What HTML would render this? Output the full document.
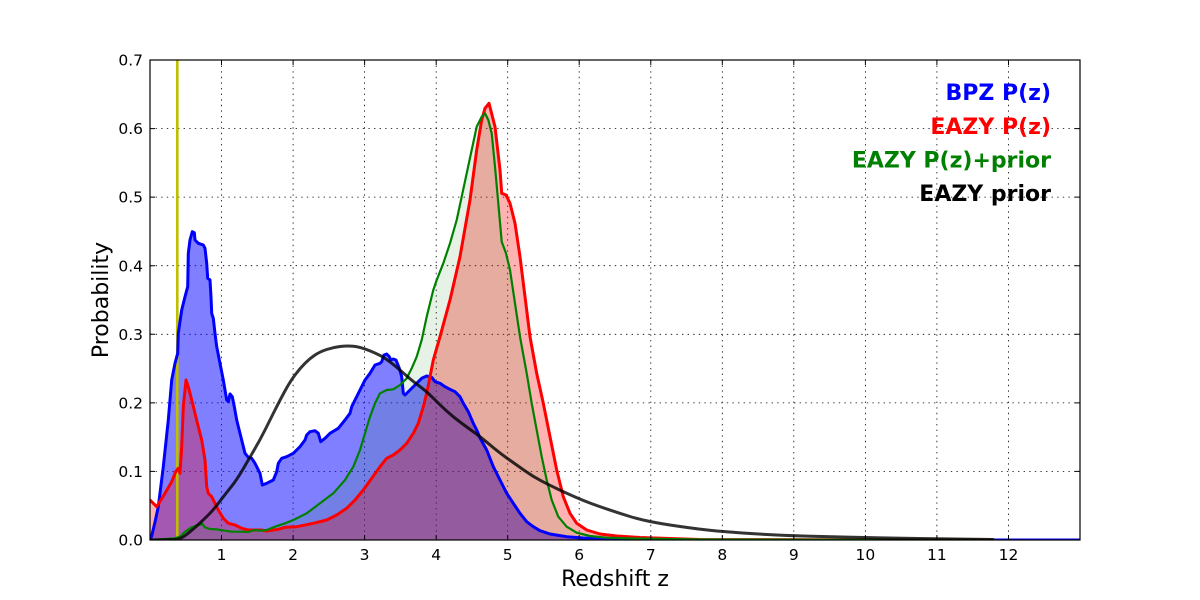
<!DOCTYPE html>
<html><head><meta charset="utf-8"><style>
html,body{margin:0;padding:0;background:#fff;}
svg{display:block;}
text{font-family:"DejaVu Sans","Liberation Sans",sans-serif;}
</style></head><body>
<svg width="1200" height="600" viewBox="0 0 1200 600" xmlns="http://www.w3.org/2000/svg">
<defs><clipPath id="c"><rect x="150" y="60" width="930" height="480"/></clipPath></defs>
<rect width="1200" height="600" fill="#fff"/>
<g stroke="#000" stroke-width="0.8" stroke-dasharray="1.4 4.2" fill="none">
<line x1="221.5" y1="60" x2="221.5" y2="540"/><line x1="293.1" y1="60" x2="293.1" y2="540"/><line x1="364.6" y1="60" x2="364.6" y2="540"/><line x1="436.2" y1="60" x2="436.2" y2="540"/><line x1="507.7" y1="60" x2="507.7" y2="540"/><line x1="579.2" y1="60" x2="579.2" y2="540"/><line x1="650.8" y1="60" x2="650.8" y2="540"/><line x1="722.3" y1="60" x2="722.3" y2="540"/><line x1="793.8" y1="60" x2="793.8" y2="540"/><line x1="865.4" y1="60" x2="865.4" y2="540"/><line x1="936.9" y1="60" x2="936.9" y2="540"/><line x1="1008.5" y1="60" x2="1008.5" y2="540"/>
<line x1="150" y1="471.4" x2="1080" y2="471.4"/><line x1="150" y1="402.9" x2="1080" y2="402.9"/><line x1="150" y1="334.3" x2="1080" y2="334.3"/><line x1="150" y1="265.7" x2="1080" y2="265.7"/><line x1="150" y1="197.1" x2="1080" y2="197.1"/><line x1="150" y1="128.6" x2="1080" y2="128.6"/>
</g>
<g clip-path="url(#c)">
<path fill="#0000ff" fill-opacity="0.5" d="M150,540 L151.7,536 155,522 158.3,506.7 163.3,466.7 168.3,420 171.7,380 175,363.3 177.7,353.3 178.3,333.3 181.7,310 185,296.7 187.7,286.7 188.3,253.3 190,240 192.3,231.7 194.3,232.7 195,240 198.3,243.3 203.3,245 205,248.3 206.7,263.3 207.7,278.3 210,280 211,296.7 211.7,313.3 213.3,318.3 215,333.3 216.7,346.7 220,363.3 223.3,380 226.7,400 228.3,401.7 230,394 232.3,396.7 234.3,406.7 236.7,420 240,433.3 245,453.3 248.3,457.3 251.7,458.3 255,463.3 260,473.3 262.3,485 266.7,483.3 273.3,480 276.7,471.7 278.3,463.3 281.7,458.3 286.7,456.7 293.3,453.3 300,446.7 305,440 306.7,435 310,431.7 315,430.7 318.3,433.3 320.7,441.7 325,438.3 330,433.3 338.3,428.3 345,420 350,413.3 351.7,406.7 355,400 360,390 365,380 370,373.3 375,365 380,363.3 381.7,361.7 384,355 386.7,354 389.3,356.7 390.7,360 393.3,359 396,360 397.3,363.3 399.3,368.3 401.7,376.7 403.3,393.3 405,395 410,390 416.7,383.3 421.7,378.3 426.7,376 431.7,377.3 435,381.7 440,383.3 445,386.7 450,389.3 455,391.7 460,396.7 463.3,403.3 468.3,411.7 473.3,423.3 476.7,430 480,438 486.7,450 493.3,466.7 500,480 506.7,493.3 513.3,503.3 520,513.3 526.7,521.7 533.3,526.7 540,530.7 550,534 566.7,536.7 583,538 610,539.5 650,540 1080,540 Z"/>
<path fill="#ff0000" fill-opacity="0.3" d="M150,540 L150,500 156.7,506.7 165,493.3 171.7,481.7 175.7,471.7 178.3,468.3 180,473.3 181.7,446.7 183.3,406.7 186,380 188.3,386.7 191.7,400 195,413.3 198.3,426.7 201.7,440 205,460 206.7,486.7 208.3,493.3 211.7,496.7 215,503.3 218.3,510 223.3,518.3 228.3,523.3 235,525 241.7,528.3 248.3,530 255,530 261.7,530 266.7,531 278.3,529.3 285,527.3 296.7,526.7 313.3,523.3 326.7,520 336.7,515 346.7,508.3 355,500 363.3,490 371.7,478.3 380,466.7 386.7,458.3 393.3,455 400,450 406.7,443.3 413.3,433.3 418.3,423.3 423.3,406.7 426.7,393.3 430,376.7 433.3,360 440,336.7 450,300 460,256.7 470,200 476.7,150 481.7,120 485,108.3 489,103.3 495,126.7 500,170 501.7,193.3 506,195 510,203.3 515,223.3 520,256.7 525,296.7 530,336.7 536.7,373.3 543.3,403.3 550,436.7 556.7,470 563.3,496.7 570,513.3 576.7,523.3 586.7,530 600,534 616.7,536 640,537.5 700,539.5 993,540 Z"/>
<path fill="#008000" fill-opacity="0.1" d="M150,540 L175,538.3 180,536.7 185,531.7 191.7,527.3 198.3,525 202.3,524 205,527.3 210,529 216.7,529.3 225,530.7 231.7,531.7 241.7,531.7 248.3,532 255,530 260,530.7 266.7,530 275,526.7 285,523.3 293.3,520 306.7,513.3 320,503.3 333.3,493.3 345,480 353.3,466.7 360,450 365,433.3 370,416.7 375,403.3 380,393.3 386.7,390 393.3,389.3 400,385 406.7,378.3 411.7,368.3 416.7,356.7 421.7,340 426.7,316.7 433.3,290 436.7,280 443.3,263.3 450,243.3 456.7,220 461.7,196.7 466.7,173.3 471.7,150 476.7,126.7 481.7,116.7 485,113.3 488.3,120 491.7,133.3 495,166.7 498.3,203.3 501.7,241.7 506,253.3 510,270 515,303.3 520,336.7 526.7,373.3 531.7,403.3 536.7,430 541.7,456.7 546.7,480 551.7,500 558.3,516.7 566.7,526.7 576.7,532.7 590,536 606.7,537.7 633,538.5 700,539.5 993,540 Z"/>
<line x1="177.3" y1="60" x2="177.3" y2="540" stroke="#bfbf00" stroke-width="2.6"/>
<g fill="none" stroke-linejoin="round" stroke-linecap="round">
<polyline stroke="#0000ff" stroke-width="3" points="150,540 151.7,536 155,522 158.3,506.7 163.3,466.7 168.3,420 171.7,380 175,363.3 177.7,353.3 178.3,333.3 181.7,310 185,296.7 187.7,286.7 188.3,253.3 190,240 192.3,231.7 194.3,232.7 195,240 198.3,243.3 203.3,245 205,248.3 206.7,263.3 207.7,278.3 210,280 211,296.7 211.7,313.3 213.3,318.3 215,333.3 216.7,346.7 220,363.3 223.3,380 226.7,400 228.3,401.7 230,394 232.3,396.7 234.3,406.7 236.7,420 240,433.3 245,453.3 248.3,457.3 251.7,458.3 255,463.3 260,473.3 262.3,485 266.7,483.3 273.3,480 276.7,471.7 278.3,463.3 281.7,458.3 286.7,456.7 293.3,453.3 300,446.7 305,440 306.7,435 310,431.7 315,430.7 318.3,433.3 320.7,441.7 325,438.3 330,433.3 338.3,428.3 345,420 350,413.3 351.7,406.7 355,400 360,390 365,380 370,373.3 375,365 380,363.3 381.7,361.7 384,355 386.7,354 389.3,356.7 390.7,360 393.3,359 396,360 397.3,363.3 399.3,368.3 401.7,376.7 403.3,393.3 405,395 410,390 416.7,383.3 421.7,378.3 426.7,376 431.7,377.3 435,381.7 440,383.3 445,386.7 450,389.3 455,391.7 460,396.7 463.3,403.3 468.3,411.7 473.3,423.3 476.7,430 480,438 486.7,450 493.3,466.7 500,480 506.7,493.3 513.3,503.3 520,513.3 526.7,521.7 533.3,526.7 540,530.7 550,534 566.7,536.7 583,538 610,539.5 650,540 1080,540"/>
<polyline stroke="#ff0000" stroke-width="3" points="150,500 156.7,506.7 165,493.3 171.7,481.7 175.7,471.7 178.3,468.3 180,473.3 181.7,446.7 183.3,406.7 186,380 188.3,386.7 191.7,400 195,413.3 198.3,426.7 201.7,440 205,460 206.7,486.7 208.3,493.3 211.7,496.7 215,503.3 218.3,510 223.3,518.3 228.3,523.3 235,525 241.7,528.3 248.3,530 255,530 261.7,530 266.7,531 278.3,529.3 285,527.3 296.7,526.7 313.3,523.3 326.7,520 336.7,515 346.7,508.3 355,500 363.3,490 371.7,478.3 380,466.7 386.7,458.3 393.3,455 400,450 406.7,443.3 413.3,433.3 418.3,423.3 423.3,406.7 426.7,393.3 430,376.7 433.3,360 440,336.7 450,300 460,256.7 470,200 476.7,150 481.7,120 485,108.3 489,103.3 495,126.7 500,170 501.7,193.3 506,195 510,203.3 515,223.3 520,256.7 525,296.7 530,336.7 536.7,373.3 543.3,403.3 550,436.7 556.7,470 563.3,496.7 570,513.3 576.7,523.3 586.7,530 600,534 616.7,536 640,537.5 700,539.5 993,540"/>
<polyline stroke="#008000" stroke-width="2.2" points="150,540 175,538.3 180,536.7 185,531.7 191.7,527.3 198.3,525 202.3,524 205,527.3 210,529 216.7,529.3 225,530.7 231.7,531.7 241.7,531.7 248.3,532 255,530 260,530.7 266.7,530 275,526.7 285,523.3 293.3,520 306.7,513.3 320,503.3 333.3,493.3 345,480 353.3,466.7 360,450 365,433.3 370,416.7 375,403.3 380,393.3 386.7,390 393.3,389.3 400,385 406.7,378.3 411.7,368.3 416.7,356.7 421.7,340 426.7,316.7 433.3,290 436.7,280 443.3,263.3 450,243.3 456.7,220 461.7,196.7 466.7,173.3 471.7,150 476.7,126.7 481.7,116.7 485,113.3 488.3,120 491.7,133.3 495,166.7 498.3,203.3 501.7,241.7 506,253.3 510,270 515,303.3 520,336.7 526.7,373.3 531.7,403.3 536.7,430 541.7,456.7 546.7,480 551.7,500 558.3,516.7 566.7,526.7 576.7,532.7 590,536 606.7,537.7 633,538.5 700,539.5 993,540"/>
<path stroke="#000" stroke-opacity="0.8" stroke-width="3" d="M150,540 L175,539.55 Q180,539.3 185,535.65 Q190,532 196.65,526 Q203.3,520 208.3,515 Q213.3,510 218.3,503.35 Q223.3,496.7 230,488.35 Q236.7,480 242.5,470 Q248.3,460 254.15,450 Q260,440 265,430 Q270,420 275,410 Q280,400 285,390.85 Q290,381.7 295,375 Q300,368.3 305,363.3 Q310,358.3 315,355 Q320,351.7 326.65,349.5 Q333.3,347.3 340,346.5 Q346.7,345.7 353.35,346.2 Q360,346.7 370,350.85 Q380,355 385,358.35 Q390,361.7 395,365.85 Q400,370 406.65,375.85 Q413.3,381.7 420,386.6 Q426.7,391.5 433.35,398.25 Q440,405 446.65,411 Q453.3,417 460,422 Q466.7,427 473.35,431.75 Q480,436.5 490,444.9 Q500,453.3 508.35,459.15 Q516.7,465 525,470.85 Q533.3,476.7 541.65,481.1 Q550,485.5 558.35,489.4 Q566.7,493.3 574.85,496.9 Q583,500.5 591.5,503.6 Q600,506.7 610,510.1 Q620,513.5 630,516.5 Q640,519.5 650,521.5 Q660,523.5 670,525 Q680,526.5 690,527.9 Q700,529.3 710.75,530.4 Q721.5,531.5 740.75,532.85 Q760,534.2 776.5,534.95 Q793,535.7 811.5,536.2 Q830,536.7 847,537.1 Q864,537.5 882,537.85 Q900,538.2 918,538.5 Q936,538.8 964.5,539.15 L993,539.5"/>
</g>
</g>
<rect x="150" y="60" width="930" height="480" fill="none" stroke="#000" stroke-width="1.2"/>
<g stroke="#000" stroke-width="1">
<path d="M221.5,540v-5M293.1,540v-5M364.6,540v-5M436.2,540v-5M507.7,540v-5M579.2,540v-5M650.8,540v-5M722.3,540v-5M793.8,540v-5M865.4,540v-5M936.9,540v-5M1008.5,540v-5"/>
<path d="M221.5,60v5M293.1,60v5M364.6,60v5M436.2,60v5M507.7,60v5M579.2,60v5M650.8,60v5M722.3,60v5M793.8,60v5M865.4,60v5M936.9,60v5M1008.5,60v5"/>
<path d="M150,471.4h5M150,402.9h5M150,334.3h5M150,265.7h5M150,197.1h5M150,128.6h5"/>
<path d="M1080,471.4h-5M1080,402.9h-5M1080,334.3h-5M1080,265.7h-5M1080,197.1h-5M1080,128.6h-5"/>
</g>
<g font-size="15.5" fill="#000" text-anchor="middle">
<text x="221.5" y="560">1</text><text x="293.1" y="560">2</text><text x="364.6" y="560">3</text><text x="436.2" y="560">4</text><text x="507.7" y="560">5</text><text x="579.2" y="560">6</text><text x="650.8" y="560">7</text><text x="722.3" y="560">8</text><text x="793.8" y="560">9</text><text x="865.4" y="560">10</text><text x="936.9" y="560">11</text><text x="1008.5" y="560">12</text>
</g>
<g font-size="15.5" fill="#000" text-anchor="end">
<text x="143" y="545.6">0.0</text><text x="143" y="477">0.1</text><text x="143" y="408.5">0.2</text><text x="143" y="339.9">0.3</text><text x="143" y="271.3">0.4</text><text x="143" y="202.7">0.5</text><text x="143" y="134.2">0.6</text><text x="143" y="65.6">0.7</text>
</g>
<text x="615" y="586" font-size="22" text-anchor="middle" fill="#000">Redshift z</text>
<text transform="translate(108,300) rotate(-90)" font-size="22" text-anchor="middle" fill="#000">Probability</text>
<g font-size="22" font-weight="bold" text-anchor="end">
<text x="1051" y="100" fill="#0000ff">BPZ P(z)</text>
<text x="1051" y="134" fill="#ff0000">EAZY P(z)</text>
<text x="1051" y="167.5" fill="#008000">EAZY P(z)+prior</text>
<text x="1051" y="201" fill="#000">EAZY prior</text>
</g>
</svg>
</body></html>
